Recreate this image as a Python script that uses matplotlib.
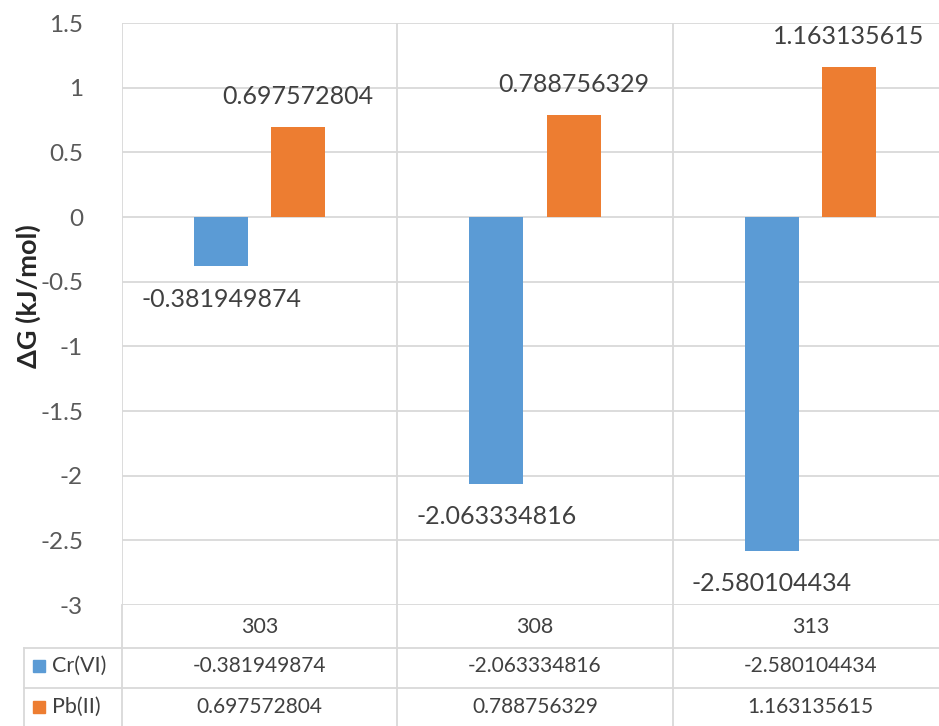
import matplotlib.pyplot as plt
import numpy as np

# Gibbs free energy per temperature for each metal ion
temps = ['303', '308', '313']
series = ['Cr(VI)', 'Pb(II)']
cr_vals = [-0.381949874, -2.063334816, -2.580104434]
pb_vals = [0.697572804, 0.788756329, 1.163135615]
yticks = [-3, -2.5, -2, -1.5, -1, -0.5, 0, 0.5, 1, 1.5]

colors = ['#5B9BD5', '#ED7D31']
grid_col = '#D9D9D9'
text_col = '#404040'

plt.rcParams['font.family'] = ['Lato', 'DejaVu Sans']

W, H = 939, 726
fig = plt.figure(figsize=(W / 100, H / 100), dpi=100)

# main plot area, extends a little past the right edge
ax = fig.add_axes([122 / W, 1 - 605 / H, (948 - 122) / W, 582 / H])
x = np.arange(len(temps))
bw = 0.196
off = 0.14
bars_cr = ax.bar(x - off, cr_vals, bw, color=colors[0], zorder=3)
bars_pb = ax.bar(x + off, pb_vals, bw, color=colors[1], zorder=3)

ax.set_xlim(-0.5, len(temps) - 0.5)
ax.set_ylim(-3, 1.5)
ax.set_yticks(yticks)
ax.set_yticklabels([f'{t:g}' for t in yticks], fontsize=17.5, color='#595959')
ax.tick_params(axis='y', length=0, pad=28)
ax.tick_params(axis='x', length=0, labelbottom=False)
for s in ax.spines.values():
    s.set_visible(False)
for t in yticks:
    ax.axhline(t, color=grid_col, lw=1.3, zorder=1)
for b in np.arange(-0.5, len(temps), 1.0):
    ax.axvline(b, color=grid_col, lw=1.3, zorder=1)

# value labels on the bars
for bars, vals in [(bars_cr, cr_vals), (bars_pb, pb_vals)]:
    for rect, v in zip(bars, vals):
        cx = rect.get_x() + rect.get_width() / 2
        dy = 30 if v >= 0 else -33
        ax.annotate(f'{v:.9f}', (cx, v), xytext=(0, dy), textcoords='offset pixels',
                    ha='center', va='center', fontsize=18, color=text_col)

fig.text(28 / W, 1 - 296 / H, 'ΔG (kJ/mol)', rotation=90, ha='center', va='center',
         fontsize=19.5, fontweight='bold', color='#262626')

# data table under the plot
tab = fig.add_axes([122 / W, 1 - 727 / H, (948 - 122) / W, 122 / H])
tab.set_xlim(-0.5, len(temps) - 0.5)
tab.set_ylim(3, 0)
tab.axis('off')
px = 1 / 275.5  # one pixel in category units
left = -0.5 - 98 * px
for b in np.arange(-0.5, len(temps), 1.0):
    tab.plot([b, b], [0, 3], color=grid_col, lw=1.3, clip_on=False)
tab.plot([left, left], [1.05, 3], color=grid_col, lw=1.3, clip_on=False)
for r in [1.05, 2.05]:
    tab.plot([left, len(temps) - 0.5], [r, r], color=grid_col, lw=1.3, clip_on=False)

for i, t in enumerate(temps):
    tab.text(i, 0.55, t, ha='center', va='center', fontsize=15.5, color=text_col)
for r, (name, vals) in enumerate([(series[0], cr_vals), (series[1], pb_vals)]):
    yc = r + 1.5
    tab.plot([left + 15 * px], [yc], marker='s', ms=8, color=colors[r], clip_on=False)
    tab.text(left + 28 * px, yc, name, ha='left', va='center', fontsize=15.5,
             color=text_col)
    for i, v in enumerate(vals):
        tab.text(i, yc, f'{v:.9f}', ha='center', va='center', fontsize=15,
                 color=text_col)

fig.savefig('out.png', dpi=100)
